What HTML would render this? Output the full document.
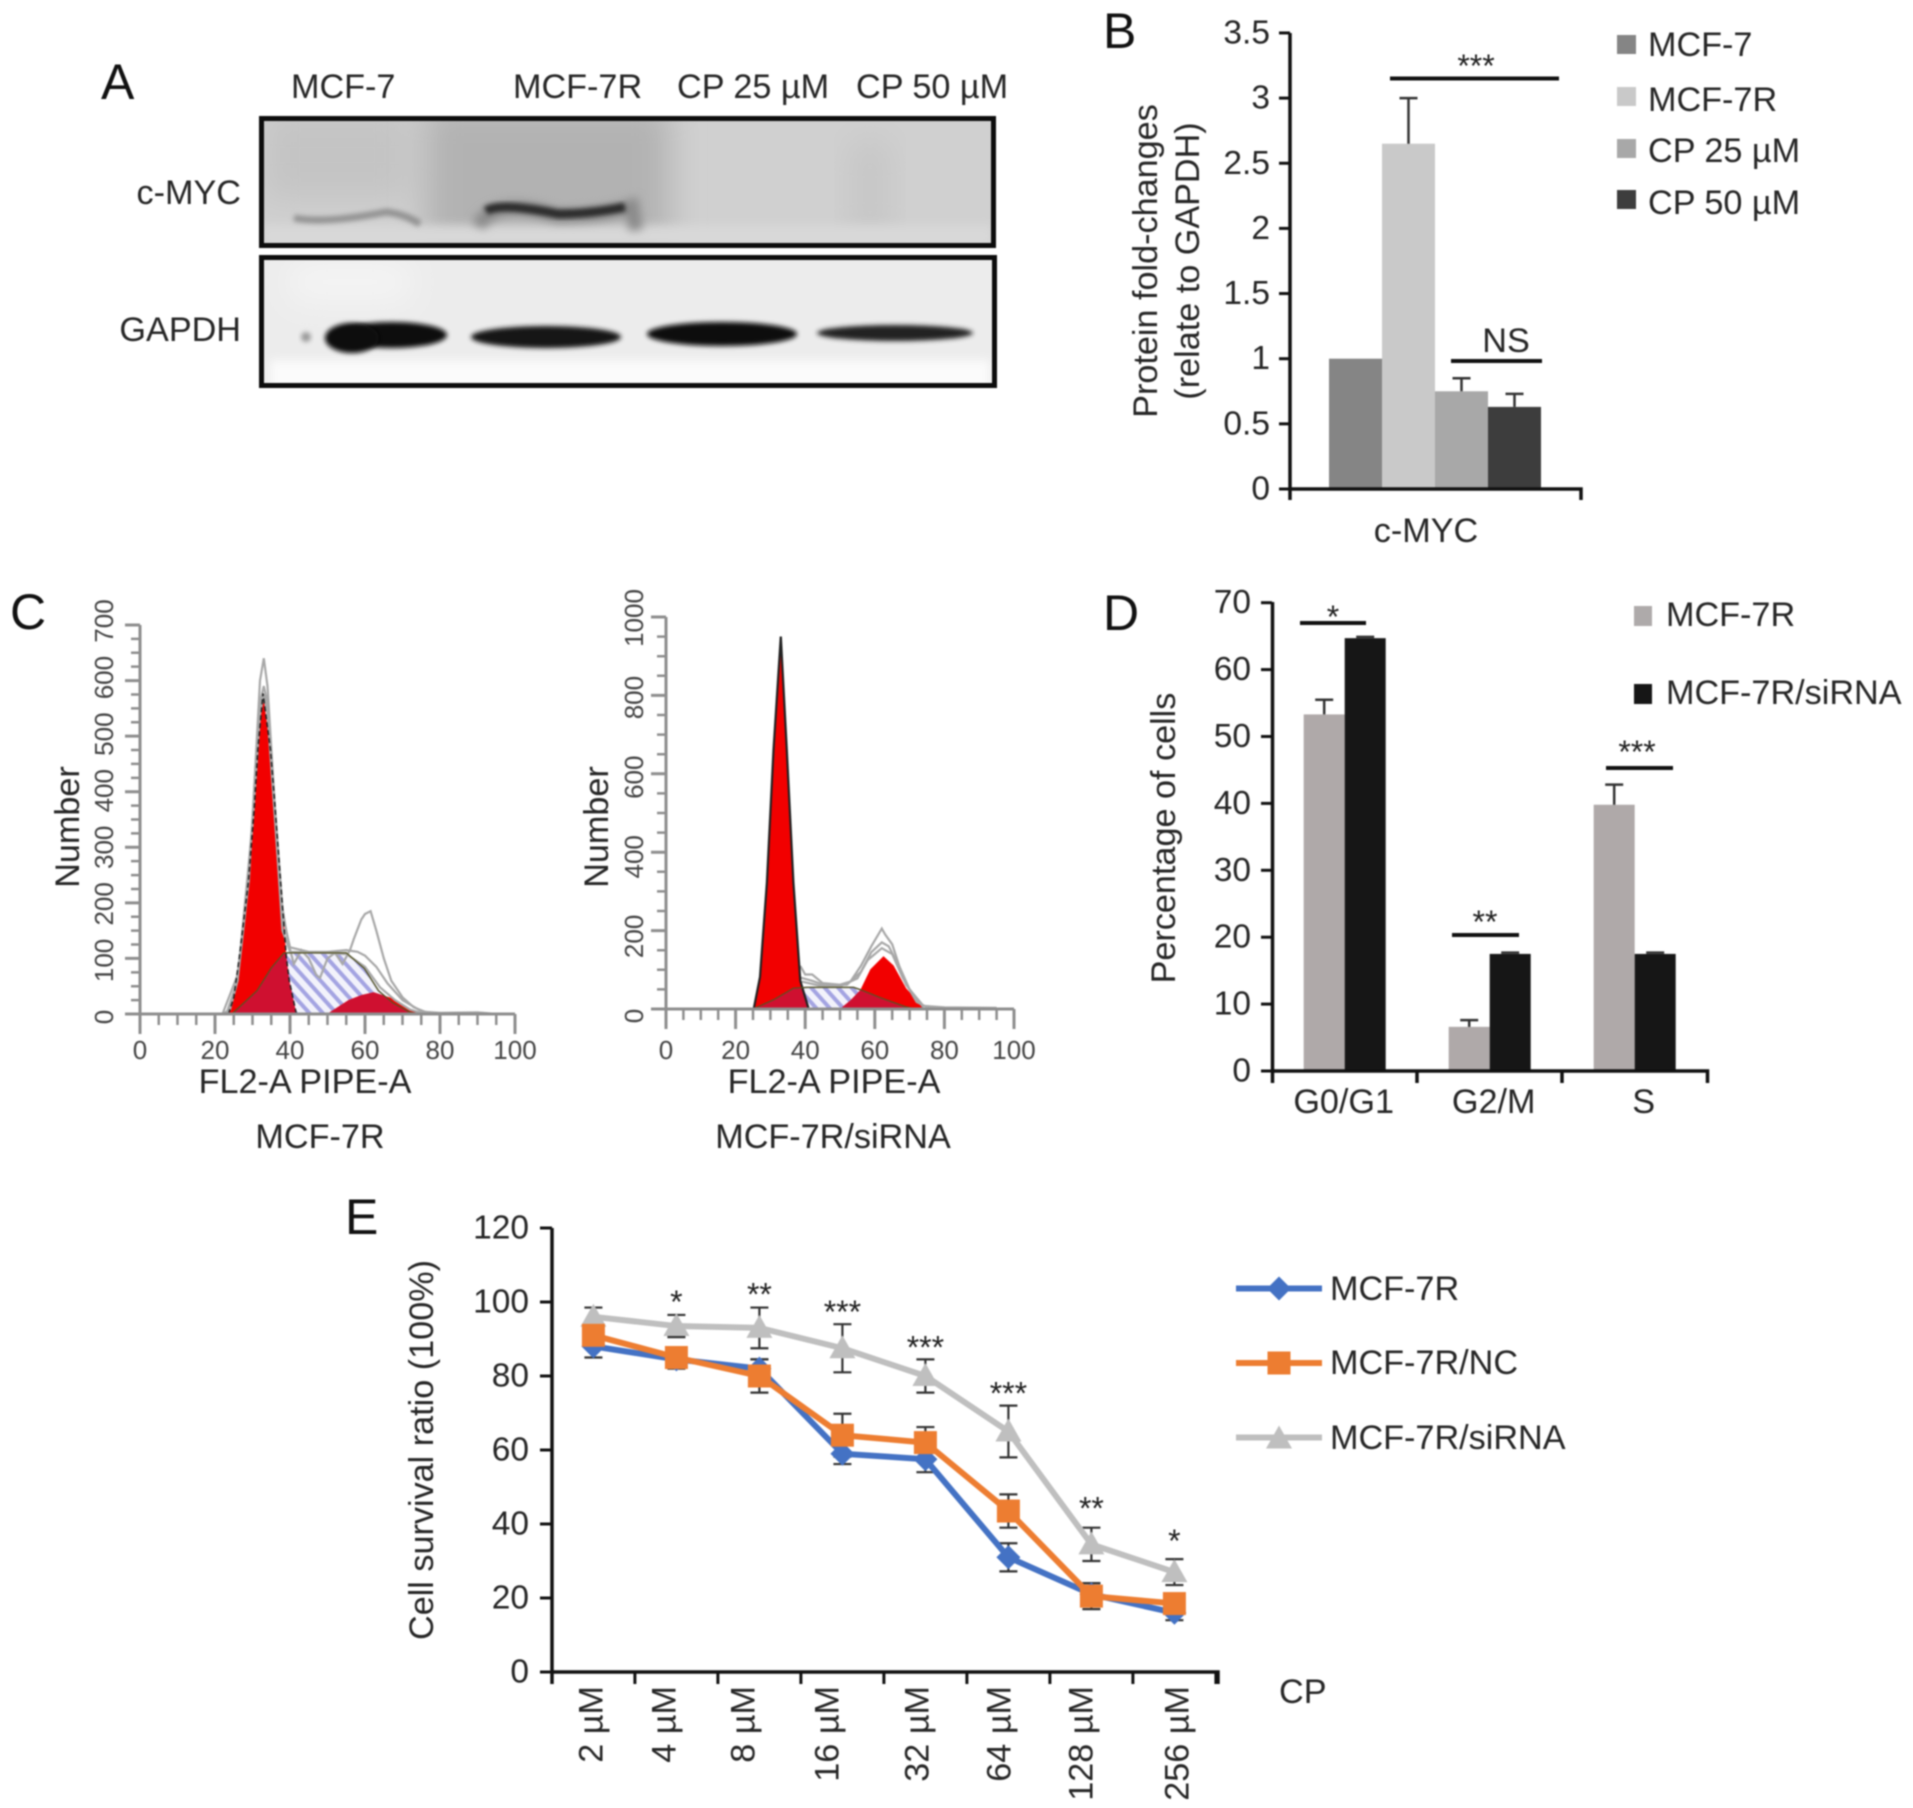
<!DOCTYPE html>
<html lang="en">
<head>
<meta charset="utf-8">
<title>c-MYC figure panels</title>
<style>
html,body{margin:0;padding:0;background:#fff;}
svg{display:block;filter:blur(0.7px);}
text{font-family:"Liberation Sans",sans-serif;font-size:34.200px;fill:#262626;dominant-baseline:central;}
.letter{font-size:50px;fill:#111;}
.tick{font-size:33.500px;text-anchor:end;}
.flow{font-size:26px;fill:#444;text-anchor:middle;}
.mid{text-anchor:middle;}
.star{font-size:32px;text-anchor:middle;fill:#222;}
</style>
</head>
<body>
<svg id="fig" xmlns="http://www.w3.org/2000/svg" width="1913" height="1808" viewBox="0 0 1913 1808">
<defs>
<filter id="b2" x="-30%" y="-100%" width="160%" height="300%"><feGaussianBlur stdDeviation="2.5"/></filter>
<filter id="b4" x="-30%" y="-100%" width="160%" height="300%"><feGaussianBlur stdDeviation="4.5"/></filter>
<filter id="b8" x="-40%" y="-100%" width="180%" height="300%"><feGaussianBlur stdDeviation="16"/></filter>
<pattern id="hatch" width="10" height="10" patternUnits="userSpaceOnUse" patternTransform="rotate(-42)">
<rect width="10" height="10" fill="#f2f2fb"/><rect width="4" height="10" fill="#a4a4e2"/>
</pattern>
<clipPath id="clip-box1"><rect x="262" y="119" width="731" height="126"/></clipPath>
<clipPath id="clip-box2"><rect x="262" y="258" width="731" height="127"/></clipPath>
</defs>

<!-- Panel A -->
<g>
<text class="letter" x="101" y="82">A</text>
<text x="291" y="87">MCF-7</text>
<text x="513" y="87">MCF-7R</text>
<text x="677" y="87">CP 25 µM</text>
<text x="856" y="87">CP 50 µM</text>
<text x="241" y="193" text-anchor="end">c-MYC</text>
<text x="241" y="330" text-anchor="end">GAPDH</text>
<g clip-path="url(#clip-box1)">
<rect x="259" y="116" width="737" height="132" fill="#d0d0d0"/>
<rect x="262" y="110" width="150" height="90" fill="#c4c4c4" filter="url(#b8)"/>
<rect x="425" y="105" width="245" height="150" fill="#b2b2b2" filter="url(#b8)"/>
<rect x="850" y="140" width="40" height="100" fill="#c6c6c6" filter="url(#b8)"/>
<rect x="262" y="225" width="730" height="22" fill="#d8d8d8" filter="url(#b4)"/>
<path d="M294,218 Q325,224 386,212 Q405,214 420,224" fill="none" stroke="#929292" stroke-width="7" filter="url(#b2)"/>
<path d="M478,226 Q495,196 558,216 Q600,216 632,206 L636,230" fill="none" stroke="#8a8a8a" stroke-width="14" filter="url(#b4)"/>
<path d="M486,211 Q500,202 558,214 Q590,214 625,207" fill="none" stroke="#2a2a2a" stroke-width="9" filter="url(#b2)"/>
</g>
<g clip-path="url(#clip-box2)">
<rect x="259" y="255" width="737" height="133" fill="#ececec"/>
<rect x="270" y="360" width="720" height="30" fill="#fbfbfb" filter="url(#b4)"/>
<rect x="290" y="262" width="120" height="40" fill="#f4f4f4" filter="url(#b8)"/>
<circle cx="306" cy="337" r="5" fill="#999" filter="url(#b2)"/>
<ellipse cx="392" cy="335" rx="55" ry="13" fill="#0a0a0a" filter="url(#b2)"/>
<ellipse cx="352" cy="338" rx="27" ry="15" fill="#0a0a0a" filter="url(#b2)"/>
<ellipse cx="546" cy="337" rx="75" ry="11" fill="#141414" filter="url(#b2)"/>
<ellipse cx="722" cy="334" rx="75" ry="12" fill="#0a0a0a" filter="url(#b2)"/>
<ellipse cx="895" cy="333" rx="78" ry="8" fill="#222" filter="url(#b2)"/>
</g>
<rect x="261.500" y="118.500" width="732" height="127" fill="none" stroke="#0c0c0c" stroke-width="5"/>
<rect x="261.500" y="257.500" width="733" height="128" fill="none" stroke="#0c0c0c" stroke-width="5"/>
</g>

<!-- Panel B -->
<g id="panel-b">
<text class="letter" x="1103" y="31">B</text>
<text class="mid" transform="rotate(-90 1146 261)" x="1146" y="261">Protein fold-changes</text>
<text class="mid" transform="rotate(-90 1188 261)" x="1188" y="261">(relate to GAPDH)</text>
<text class="mid" x="1426" y="531">c-MYC</text>
<rect x="1617" y="35" width="19" height="19" fill="#858585"/>
<rect x="1617" y="87" width="19" height="19" fill="#c9c9c9"/>
<rect x="1617" y="139" width="19" height="19" fill="#a8a8a8"/>
<rect x="1617" y="190" width="19" height="19" fill="#3d3d3d"/>
<text x="1648" y="45">MCF-7</text>
<text x="1648" y="100">MCF-7R</text>
<text x="1648" y="151">CP 25 µM</text>
<text x="1648" y="203">CP 50 µM</text>
<rect x="1390" y="76.500" width="169" height="4" fill="#111"/>
<text class="star" x="1476" y="66">***</text>
<rect x="1451" y="359" width="91" height="4" fill="#111"/>
<text class="mid" x="1506" y="341">NS</text>
</g>

<!-- Panel C -->
<g>
<text class="letter" x="10" y="612">C</text>
<g id="flow-left"></g>
<g id="flow-right"></g>
<text class="mid" transform="rotate(-90 68 827)" x="68" y="827">Number</text>
<text class="mid" x="305" y="1082">FL2-A PIPE-A</text>
<text class="mid" x="320" y="1137">MCF-7R</text>
<text class="mid" transform="rotate(-90 597 827)" x="597" y="827">Number</text>
<text class="mid" x="834" y="1082">FL2-A PIPE-A</text>
<text class="mid" x="833" y="1137">MCF-7R/siRNA</text>
</g>

<!-- Panel D -->
<g id="panel-d">
<text class="letter" x="1103" y="613">D</text>
<text class="mid" transform="rotate(-90 1164 838)" x="1164" y="838">Percentage of cells</text>
<rect x="1634" y="606" width="18" height="20" fill="#aeaaaa"/>
<rect x="1634" y="684" width="18" height="20" fill="#161616"/>
<text x="1666" y="615">MCF-7R</text>
<text x="1666" y="693">MCF-7R/siRNA</text>
<rect x="1300" y="621" width="66" height="4" fill="#111"/>
<text class="star" x="1333" y="617">*</text>
<rect x="1452" y="933" width="67" height="4" fill="#111"/>
<text class="star" x="1485" y="922">**</text>
<rect x="1606" y="766" width="67" height="4" fill="#111"/>
<text class="star" x="1637" y="752">***</text>
</g>

<!-- Panel E -->
<g id="panel-e">
<text class="letter" x="345" y="1217">E</text>
<text class="mid" transform="rotate(-90 422 1450)" x="422" y="1450">Cell survival ratio (100%)</text>
<text x="1279" y="1692">CP</text>
<path d="M1236,1288.500H1322" stroke="#4472c4" stroke-width="6"/>
<path d="M1279,1276.500L1291,1288.500L1279,1300.500L1267,1288.500Z" fill="#4472c4"/>
<path d="M1236,1363H1322" stroke="#ed7d31" stroke-width="6"/>
<rect x="1267.500" y="1351.500" width="23" height="23" fill="#ed7d31"/>
<path d="M1236,1437.500H1322" stroke="#bfbfbf" stroke-width="6"/>
<path d="M1279,1425.500L1292,1448.500H1266Z" fill="#bfbfbf"/>
<text x="1330" y="1289">MCF-7R</text>
<text x="1330" y="1363">MCF-7R/NC</text>
<text x="1330" y="1438">MCF-7R/siRNA</text>
</g>
</svg>

<script>
// ---------- Panel B data ----------
const bCategories = ['MCF-7', 'MCF-7R', 'CP 25 µM', 'CP 50 µM'];
const bValues = [1, 2.65, 0.75, 0.63];
const bErrorTops = [1, 3.0, 0.85, 0.73];
const bColors = ['#858585', '#c9c9c9', '#a8a8a8', '#3d3d3d'];
const bTickLabels = ['0', '0.5', '1', '1.5', '2', '2.5', '3', '3.5'];

// ---------- Panel C data (x channel, count) ----------
const c1G1 = [[23.6,0],[25,30],[26.5,103],[28.9,238],[30.5,374],[31.4,475],[32.8,577],[34.8,475],[36,374],[37.5,238],[39,103],[39.8,60],[41.7,0]];
const c1S = [[24.5,0],[31.2,42],[35,83],[38.4,110],[55,110],[59.8,82],[63.6,42],[67.4,20],[72,3],[75,0]];
const c1G2 = [[49.9,0],[55.6,25],[59,34],[62.3,39],[67.4,28],[71,13],[75,0]];
const c1Raw1 = [[22,0],[24,8],[26,60],[28,180],[30,350],[32,600],[33,640],[34,590],[36,370],[38,190],[39.5,130],[41,90],[43,115],[45,100],[47,70],[48,65],[50,100],[52,110],[54,90],[56,115],[57,135],[59,170],[60,180],[61.5,185],[63,150],[65,100],[67,60],[70,30],[73,12],[76,4],[80,2],[90,3],[95,0]];
const c1Raw2 = [[22,0],[26,70],[29,240],[31,470],[32,560],[33,590],[34,560],[36,370],[38,180],[40,120],[45,112],[50,112],[55,115],[58,112],[60,105],[63,85],[66,55],[70,25],[75,5],[80,0]];
const c1Raw3 = [[23,0],[26,60],[30,340],[32,540],[33,575],[34,540],[36,350],[38,150],[40,112],[50,110],[55,108],[60,85],[64,48],[68,25],[72,8],[76,0]];
const c1XTicks = [0, 20, 40, 60, 80, 100];
const c1YTicks = [0, 100, 200, 300, 400, 500, 600, 700];

const c2G1 = [[25.2,0],[27,82],[29,323],[30.9,661],[33,950],[34.7,661],[36.6,323],[38.6,72],[41,0]];
const c2S = [[25,0],[31,24],[36.6,53],[40.5,55],[53.9,55],[56.3,48],[61.5,29],[69,5],[72,0]];
const c2G2 = [[50,0],[53,22],[55.8,48],[58.7,101],[62.5,135],[65.4,111],[69,53],[74.4,0]];
const c2Raw1 = [[38.6,110],[40,88],[42,88],[45,66],[50,62],[53,70],[56,110],[59,160],[61,190],[62,205],[63,190],[65,165],[67,110],[70,50],[74,8],[80,4],[95,3]];
const c2Raw2 = [[38.6,80],[42,72],[46,60],[52,62],[56,95],[59,145],[62,170],[64,160],[66,125],[69,62],[74,4]];
const c2Raw3 = [[39,70],[44,60],[50,58],[55,78],[58,125],[62,155],[65,140],[68,80],[72,18],[76,0]];
const c2XTicks = [0, 20, 40, 60, 80, 100];
const c2YTicks = [0, 200, 400, 600, 800, 1000];

// ---------- Panel D data ----------
const dCategories = ['G0/G1', 'G2/M', 'S'];
const dMcf7r = [53.3, 6.6, 39.8];
const dMcf7rErrorTops = [55.5, 7.6, 42.8];
const dSirna = [64.7, 17.5, 17.5];
const dSirnaErrorTops = [64.9, 17.7, 17.7];
const dTickLabels = ['0', '10', '20', '30', '40', '50', '60', '70'];

// ---------- Panel E data ----------
const eCategories = ['2 µM', '4 µM', '8 µM', '16 µM', '32 µM', '64 µM', '128 µM', '256 µM'];
const eBlue = [88, 84.5, 82, 59, 57.5, 31, 21, 16];
const eBlueErr = [3, 2.5, 2.5, 2.8, 3.5, 3.8, 3, 2];
const eOrange = [91, 85, 80, 64, 62, 43.5, 20.5, 18.5];
const eOrangeErr = [2.5, 2.5, 4.5, 5.8, 4.2, 4.5, 3.5, 2.5];
const eGray = [96, 93.5, 93, 87.5, 80, 65, 34.5, 27];
const eGrayErr = [2.5, 3, 5.5, 6.5, 4.5, 7, 4.5, 3.5];
const eStars = ['', '*', '**', '***', '***', '***', '**', '*'];
const eTickLabels = ['0', '20', '40', '60', '80', '100', '120'];

const NS = 'http://www.w3.org/2000/svg';
function S(tag, attrs, parent) {
  const e = document.createElementNS(NS, tag);
  for (const k in attrs) e.setAttribute(k, attrs[k]);
  parent.appendChild(e);
  return e;
}

// ---------- Panel B ----------
(function () {
  const g = document.getElementById('panel-b');
  const y = v => 489 - v * 130.3;
  const x = i => 1329 + i * 53;
  bValues.forEach(function (v, i) {
    const bar = S('rect', {x: x(i), y: y(v), width: 53, height: y(0) - y(v), fill: bColors[i]}, g);
    
    
    if (bErrorTops[i] > v) {
      const cx = x(i) + 26.5, t = y(bErrorTops[i]);
      const err = S('path', {d: 'M' + cx + ',' + y(v) + 'V' + t + 'M' + (cx - 9) + ',' + t + 'H' + (cx + 9), stroke: '#333', 'stroke-width': 2.5, fill: 'none'}, g);
      
      
    }
  });
  const axis = S('path', {d: 'M1290,33V500M1290,489H1581V500', stroke: '#111', 'stroke-width': 3.5, fill: 'none'}, g);
  
  
  bTickLabels.forEach(function (t) {
    const py = y(Number(t));
    const tick = S('path', {d: 'M1279,' + py + 'H1290', stroke: '#111', 'stroke-width': 3}, g);
    
    
    const lab = S('text', {class: 'tick', x: 1270, y: py}, g);
    lab.textContent = t;
    
    
  });
})();

// ---------- Panel C ----------
function drawFlow(g, id, frame, d) {
  const x = v => frame.x0 + v * (frame.x100 - frame.x0) / 100;
  const y = v => frame.y0 - v * (frame.y0 - frame.yTop) / frame.yMax;
  const labelY = v => frame.labelY0 - v * (frame.labelY0 - frame.labelYTop) / frame.yMax;
  const pts = a => a.map(p => x(p[0]).toFixed(1) + ',' + y(p[1]).toFixed(1)).join(' ');

  const defs = document.querySelector('#fig defs');
  const clip = S('clipPath', {id: id + '-s-clip'}, defs);
  S('polygon', {points: pts(d.s)}, clip);

  const sp = S('polygon', {points: pts(d.s), fill: 'url(#hatch)', stroke: '#7d7d9a', 'stroke-width': 1.5}, g);
  
  
  const g1 = S('polygon', {points: pts(d.g1), fill: '#f20000'}, g);
  
  
  const g2 = S('polygon', {points: pts(d.g2), fill: '#f20000'}, g);
  
  
  [d.g1, d.g2].forEach(function (a) {
    const ov = S('polygon', {points: pts(a), fill: '#cf1030', 'clip-path': 'url(#' + id + '-s-clip)'}, g);
    
    
  });

  d.raw.forEach(function (a) {
    const r = S('polyline', {points: pts(a), fill: 'none', stroke: '#a8a8a8', 'stroke-width': 2.2}, g);
    
    
  });
  const o1 = S('polyline', {points: pts(d.g1), fill: 'none', stroke: '#222', 'stroke-width': frame.outlineWidth, 'stroke-dasharray': frame.outlineDash}, g);
  
  
  const o2 = S('polyline', {points: pts(d.s), fill: 'none', stroke: '#552', 'stroke-width': 1.2}, g);
  
  

  let minor = '', major = '';
  for (let v = 0; v <= 100; v += 5) {
    if (v % 20 === 0) major += 'M' + x(v) + ',' + frame.y0 + 'v20';
    else minor += 'M' + x(v) + ',' + frame.y0 + 'v11';
  }
  for (let v = 0; v <= frame.yMax + 0.01; v += frame.yMinor) {
    if (v % frame.yMajor === 0) major += 'M' + x(0) + ',' + y(v) + 'h-15';
    else minor += 'M' + x(0) + ',' + y(v) + 'h-9';
  }
  const t1 = S('path', {d: minor, stroke: '#8e8e8e', 'stroke-width': 2.5, fill: 'none'}, g);
  
  
  const t2 = S('path', {d: major, stroke: '#8e8e8e', 'stroke-width': 3, fill: 'none'}, g);
  
  
  const ax = S('path', {d: 'M' + x(0) + ',' + y(frame.yMax) + 'V' + frame.y0 + 'H' + x(100), stroke: '#8e8e8e', 'stroke-width': 3, fill: 'none'}, g);
  
  

  d.xTicks.forEach(function (t) {
    const l = S('text', {class: 'flow', x: x(t), y: 1050}, g);
    l.textContent = t;
    
    
  });
  d.yTicks.forEach(function (t) {
    const ly = labelY(t);
    const l = S('text', {class: 'flow', x: frame.labelX, y: ly, transform: 'rotate(-90 ' + frame.labelX + ' ' + ly + ')'}, g);
    l.textContent = t;
    
    
  });
}
drawFlow(document.getElementById('flow-left'), 'c1',
  {x0: 140, x100: 515, y0: 1014, yTop: 625, yMax: 700, yMinor: 25, yMajor: 100, labelX: 104, labelY0: 1017, labelYTop: 621, outlineWidth: 1.5, outlineDash: '5 3'},
  {g1: c1G1, s: c1S, g2: c1G2, raw: [c1Raw1, c1Raw2, c1Raw3], xTicks: c1XTicks, yTicks: c1YTicks});
drawFlow(document.getElementById('flow-right'), 'c2',
  {x0: 666, x100: 1014, y0: 1009, yTop: 617, yMax: 1000, yMinor: 50, yMajor: 200, labelX: 634, labelY0: 1016, labelYTop: 618, outlineWidth: 2.2, outlineDash: 'none'},
  {g1: c2G1, s: c2S, g2: c2G2, raw: [c2Raw1, c2Raw2, c2Raw3], xTicks: c2XTicks, yTicks: c2YTicks});

// ---------- Panel D ----------
(function () {
  const g = document.getElementById('panel-d');
  const y = v => 1071 - v * 6.69;
  const groupX = i => 1303.7 + i * 145;
  const labelCenter = i => groupX(i) + 40 + i * 5;
  function err(cx, v, top) {
    const e = S('path', {d: 'M' + cx + ',' + y(v) + 'V' + y(top) + 'M' + (cx - 9) + ',' + y(top) + 'H' + (cx + 9), stroke: '#333', 'stroke-width': 2.5, fill: 'none'}, g);
    
    
  }
  dCategories.forEach(function (c, i) {
    const b1 = S('rect', {x: groupX(i), y: y(dMcf7r[i]), width: 41, height: y(0) - y(dMcf7r[i]), fill: '#afa9a9'}, g);
    
    
    const b2 = S('rect', {x: groupX(i) + 41, y: y(dSirna[i]), width: 41, height: y(0) - y(dSirna[i]), fill: '#161616'}, g);
    
    
    err(groupX(i) + 20.5, dMcf7r[i], dMcf7rErrorTops[i]);
    err(groupX(i) + 61.5, dSirna[i], dSirnaErrorTops[i]);
    const l = S('text', {class: 'mid', x: labelCenter(i), y: 1102}, g);
    l.textContent = c;
    
    
  });
  const ax = S('path', {d: 'M1272.500,602V1083M1272.500,1071H1707.500V1083M1417,1071V1083M1562,1071V1083', stroke: '#111', 'stroke-width': 3.5, fill: 'none'}, g);
  
  
  dTickLabels.forEach(function (t) {
    const py = y(Number(t));
    const k = S('path', {d: 'M1261,' + py + 'H1272', stroke: '#111', 'stroke-width': 3}, g);
    
    
    const l = S('text', {class: 'tick', x: 1251, y: py}, g);
    l.textContent = t;
    
    
  });
})();

// ---------- Panel E ----------
(function () {
  const g = document.getElementById('panel-e');
  const y = v => 1672 - v * 3.7;
  const x = i => 593.4 + i * 83;
  const labelNudge = [-2, -12, -16, -15, -8, -9, -10, 3];
  const starGap = [0, 13, 13, 12, 12, 12, 19, 18];

  const ax = S('path', {d: 'M552,1228V1684M552,1672H1218V1684', stroke: '#111', 'stroke-width': 3.5, fill: 'none'}, g);
  
  
  eTickLabels.forEach(function (t) {
    const py = y(Number(t));
    const k = S('path', {d: 'M540,' + py + 'H552', stroke: '#111', 'stroke-width': 3}, g);
    
    
    const l = S('text', {class: 'tick', x: 529, y: py}, g);
    l.textContent = t;
    
    
  });
  eCategories.forEach(function (c, i) {
    const tx = x(i) + 41.500;
    const k = S('path', {d: 'M' + tx + ',1672V1684', stroke: '#111', 'stroke-width': 3}, g);
    
    
    const lx = x(i) + labelNudge[i];
    const l = S('text', {x: lx, y: 1686, 'text-anchor': 'end', transform: 'rotate(-90 ' + lx + ' 1686)'}, g);
    l.textContent = c;
    
    
    if (eStars[i]) {
      const s = S('text', {class: 'star', x: x(i), y: y(eGray[i] + eGrayErr[i]) - starGap[i]}, g);
      s.textContent = eStars[i];
      
      
    }
  });

  function errors(vals, errs, name) {
    vals.forEach(function (v, i) {
      const cx = x(i), a = y(v + errs[i]), b = y(v - errs[i]);
      const e = S('path', {d: 'M' + cx + ',' + a + 'V' + b + 'M' + (cx - 9) + ',' + a + 'H' + (cx + 9) + 'M' + (cx - 9) + ',' + b + 'H' + (cx + 9), stroke: '#333', 'stroke-width': 2.2, fill: 'none'}, g);
      
      
    });
  }
  function line(vals, color, name) {
    const l = S('polyline', {points: vals.map((v, i) => x(i) + ',' + y(v)).join(' '), fill: 'none', stroke: color, 'stroke-width': 6, 'stroke-linejoin': 'round'}, g);
    
    
  }
  errors(eBlue, eBlueErr, 'error-bar-mcf-7r');
  errors(eOrange, eOrangeErr, 'error-bar-nc');
  errors(eGray, eGrayErr, 'error-bar-sirna');

  line(eBlue, '#4472c4', 'line-mcf-7r');
  eBlue.forEach(function (v, i) {
    const px = x(i), py = y(v);
    const m = S('path', {d: 'M' + px + ',' + (py - 12) + 'l12,12l-12,12l-12,-12z', fill: '#4472c4'}, g);
    
    
  });
  line(eGray, '#bfbfbf', 'line-sirna');
  eGray.forEach(function (v, i) {
    const px = x(i), py = y(v);
    const m = S('path', {d: 'M' + px + ',' + (py - 13) + 'l13,23h-26z', fill: '#bfbfbf'}, g);
    
    
  });
  line(eOrange, '#ed7d31', 'line-nc');
  eOrange.forEach(function (v, i) {
    const m = S('rect', {x: x(i) - 11.5, y: y(v) - 11.5, width: 23, height: 23, fill: '#ed7d31'}, g);
    
    
  });
})();
</script>
</body>
</html>
